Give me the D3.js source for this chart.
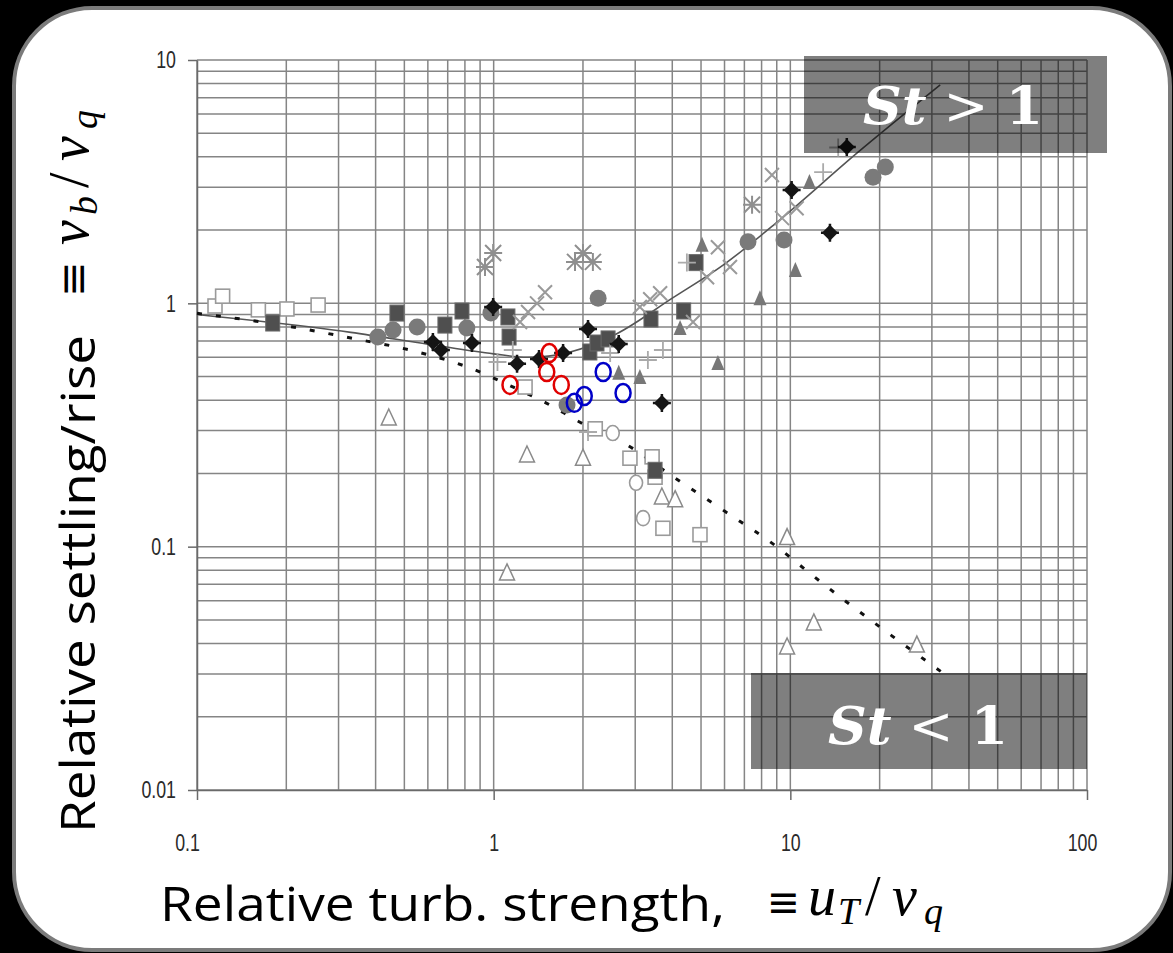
<!DOCTYPE html>
<html>
<head>
<meta charset="utf-8">
<script src="https://cdn.jsdelivr.net/npm/d3@7"></script>
<style>
  html, body { margin: 0; padding: 0; background: #000; }
  svg { display: block; }
</style>
</head>
<body>
<svg id="chart" width="1173" height="953"></svg>
<script>
// ---- axis ticks ----
const xTickValues = [0.1, 1, 10, 100];
const xTickLabels = ["0.1", "1", "10", "100"];
const yTickValues = [0.01, 0.1, 1, 10];
const yTickLabels = ["0.01", "0.1", "1", "10"];

// ---- correlation curves ----
const solidCurve = [
  [0.1, 0.90], [0.33, 0.76], [0.6, 0.68], [1.0, 0.62], [1.3, 0.60], [1.8, 0.63],
  [2.6, 0.75], [4.0, 1.05], [6.0, 1.45], [9.2, 2.2], [16.8, 4.15], [32, 7.9]
];
const dashedCurve = [
  [0.1, 0.91], [0.21, 0.80], [0.33, 0.72], [0.53, 0.64], [0.84, 0.54], [1.13, 0.46],
  [1.5, 0.39], [2.0, 0.32], [2.7, 0.27], [4.0, 0.195], [6.0, 0.14], [9.0, 0.10],
  [11.6, 0.078], [15, 0.061], [22, 0.043], [33, 0.030]
];

// ---- measurement series ----
const openSquares = [
  [0.115, 0.975], [0.122, 1.07], [0.161, 0.94], [0.201, 0.948], [0.256, 0.984],
  [1.276, 0.453], [2.2, 0.305], [2.88, 0.231], [3.42, 0.234], [3.5, 0.193],
  [3.72, 0.119], [4.96, 0.112]
];
const openCircles = [[2.52, 0.293], [3.02, 0.183], [3.19, 0.131]];
const openTriangles = [
  [0.443, 0.338], [1.295, 0.238], [2.0, 0.231], [1.109, 0.078], [3.69, 0.160],
  [4.09, 0.156], [9.75, 0.109], [12.0, 0.0486], [9.75, 0.0387], [26.7, 0.0394]
];
const grayCircles = [
  [0.407, 0.727], [0.458, 0.777], [0.552, 0.80], [0.812, 0.792], [0.979, 0.912],
  [2.25, 1.05], [1.767, 0.382], [7.2, 1.79], [9.52, 1.82], [19.0, 3.30], [20.9, 3.63]
];
const darkSquares = [
  [0.18, 0.83], [0.472, 0.912], [0.685, 0.814], [0.782, 0.93], [1.117, 0.879],
  [1.127, 0.727], [2.11, 0.631], [2.23, 0.687], [2.43, 0.714], [3.39, 0.862],
  [4.37, 0.93], [4.81, 1.47], [3.5, 0.206]
];
const blackDiamonds = [
  [0.624, 0.694], [0.664, 0.643], [0.845, 0.687], [0.996, 0.966], [1.199, 0.564],
  [1.422, 0.59], [1.714, 0.625], [2.08, 0.785], [2.64, 0.681], [3.69, 0.389],
  [10.1, 2.92], [13.6, 1.95], [15.5, 4.39]
];
const asterisks = [
  [0.996, 1.61], [0.935, 1.41], [2.0, 1.61], [1.88, 1.48], [2.16, 1.48], [7.43, 2.54]
];
const crosses = [
  [1.227, 0.838], [1.306, 0.921], [1.40, 1.0], [1.49, 1.11], [3.11, 0.966],
  [3.37, 1.04], [3.64, 1.10], [4.70, 0.838], [5.70, 1.70], [5.24, 1.28],
  [6.26, 1.41], [8.67, 3.37], [9.38, 2.24], [10.5, 2.46]
];
const plusMarks = [
  [1.03, 0.574], [1.16, 0.643], [2.47, 0.625], [3.72, 0.643], [3.31, 0.585],
  [4.48, 1.47], [12.9, 3.46], [14.5, 4.37], [2.08, 0.296]
];
const filledTriangles = [
  [4.25, 0.792], [5.04, 1.74], [2.64, 0.518], [3.11, 0.498], [5.70, 0.569],
  [7.9, 1.05], [10.4, 1.37], [11.6, 3.15]
];
const redRings = [[1.135, 0.462], [1.54, 0.625], [1.51, 0.522], [1.69, 0.462]];
const blueRings = [[1.87, 0.39], [2.02, 0.416], [2.34, 0.522], [2.73, 0.428]];

// ---- layout ----
const svg = d3.select("#chart");
const x = d3.scaleLog().domain([0.1, 100]).range([197, 1087]);
const y = d3.scaleLog().domain([0.01, 10]).range([790, 60]);

// rounded white panel
svg.append("rect")
  .attr("x", 14).attr("y", 8).attr("width", 1156).attr("height", 942)
  .attr("rx", 78).attr("ry", 78)
  .attr("fill", "#fff").attr("stroke", "#7b7b7b").attr("stroke-width", 4);

// log grid
const grid = svg.append("g");
grid.selectAll("line.gx").data(x.ticks()).join("line")
  .attr("class", "gx")
  .attr("x1", d => x(d)).attr("x2", d => x(d))
  .attr("y1", y(10)).attr("y2", y(0.01))
  .attr("stroke", "#858585").attr("stroke-width", 1.5);
grid.selectAll("line.gy").data(y.ticks()).join("line")
  .attr("class", "gy")
  .attr("x1", x(0.1)).attr("x2", x(100))
  .attr("y1", d => y(d)).attr("y2", d => y(d))
  .attr("stroke", "#858585").attr("stroke-width", 1.5);

// axes: tall, condensed digits
const tickFont = g => g.selectAll(".tick text")
  .style("font-family", "Liberation Sans, Arial, sans-serif")
  .style("font-size", "24px").attr("fill", "#2a2a2a")
  .each(function () {
    const w = this.getComputedTextLength();
    d3.select(this).attr("textLength", w * 0.74).attr("lengthAdjust", "spacingAndGlyphs");
  });

const yAxis = d3.axisLeft(y).tickValues(yTickValues)
  .tickFormat((d, i) => yTickLabels[i]).tickSize(9).tickSizeOuter(0).tickPadding(12);
svg.append("g").attr("transform", `translate(${x(0.1)},0)`).call(yAxis)
  .call(g => g.select(".domain").attr("stroke", "#6a6a6a").attr("stroke-width", 1.5))
  .call(g => g.selectAll(".tick line").attr("stroke", "#6a6a6a").attr("stroke-width", 1.5))
  .call(tickFont);

const xAxis = d3.axisBottom(x).tickValues(xTickValues)
  .tickFormat((d, i) => xTickLabels[i]).tickSize(10).tickSizeOuter(0).tickPadding(34);
svg.append("g").attr("transform", `translate(0,${y(0.01)})`).call(xAxis)
  .call(g => g.select(".domain").attr("stroke", "#6a6a6a").attr("stroke-width", 1.5))
  .call(g => g.selectAll(".tick line").attr("stroke", "#6a6a6a").attr("stroke-width", 1.5))
  .call(tickFont)
  .call(g => g.selectAll(".tick text").attr("dx", (d, i) => i === 0 ? -10 : (i === 3 ? -5 : 0)));

// curves
const line = d3.line().x(d => x(d[0])).y(d => y(d[1])).curve(d3.curveMonotoneX);
svg.append("path").datum(solidCurve).attr("d", line)
  .attr("fill", "none").attr("stroke", "#555").attr("stroke-width", 1.6);
svg.append("path").datum(dashedCurve).attr("d", line)
  .attr("fill", "none").attr("stroke", "#111").attr("stroke-width", 3)
  .attr("stroke-dasharray", "5 14");

// marker helpers
const xPath = r => `M${-r},${-r}L${r},${r}M${-r},${r}L${r},${-r}`;
const plusPath = r => `M${-r},0L${r},0M0,${-r}L0,${r}`;
const pos = d => `translate(${x(d[0])},${y(d[1])})`;
const marks = svg.append("g");

// open markers
marks.append("g").selectAll("rect").data(openSquares).join("rect")
  .attr("transform", pos).attr("x", -7).attr("y", -7).attr("width", 14).attr("height", 14)
  .attr("fill", "#fff").attr("stroke", "#9a9a9a").attr("stroke-width", 1.6);
marks.append("g").selectAll("ellipse").data(openCircles).join("ellipse")
  .attr("transform", pos).attr("rx", 6.5).attr("ry", 7.5)
  .attr("fill", "#fff").attr("stroke", "#9a9a9a").attr("stroke-width", 1.6);
marks.append("g").selectAll("path").data(openTriangles).join("path")
  .attr("transform", pos).attr("d", "M0,-9L7.5,7L-7.5,7Z")
  .attr("fill", "#fff").attr("stroke", "#8a8a8a").attr("stroke-width", 1.5);

// filled markers
marks.append("g").selectAll("circle").data(grayCircles).join("circle")
  .attr("transform", pos).attr("r", 8.5).attr("fill", "#7a7a7a");
marks.append("g").selectAll("rect").data(darkSquares).join("rect")
  .attr("transform", pos).attr("x", -7).attr("y", -8).attr("width", 14).attr("height", 16)
  .attr("fill", "#4f4f4f").attr("stroke", "#6a6a6a").attr("stroke-width", 1);
marks.append("g").selectAll("path").data(filledTriangles).join("path")
  .attr("transform", pos).attr("d", "M0,-8L6.5,7L-6.5,7Z").attr("fill", "#777");

// stroked markers
marks.append("g").selectAll("path").data(crosses).join("path")
  .attr("transform", pos).attr("d", xPath(7))
  .attr("stroke", "#9a9a9a").attr("stroke-width", 2).attr("fill", "none");
marks.append("g").selectAll("path").data(asterisks).join("path")
  .attr("transform", pos).attr("d", xPath(8) + plusPath(9))
  .attr("stroke", "#8f8f8f").attr("stroke-width", 2).attr("fill", "none");
marks.append("g").selectAll("path").data(plusMarks).join("path")
  .attr("transform", pos).attr("d", plusPath(9))
  .attr("stroke", "#aaa").attr("stroke-width", 1.8).attr("fill", "none");

// black diamonds with cross arms
const bd = marks.append("g").selectAll("g").data(blackDiamonds).join("g").attr("transform", pos);
bd.append("path").attr("d", "M0,-8L8,0L0,8L-8,0Z").attr("fill", "#151515");
bd.append("path").attr("d", plusPath(9)).attr("stroke", "#151515").attr("stroke-width", 2.5);

// Stokes-number regime boxes
function regimeBox(x0, y0, w, h, tx, ty, op) {
  svg.append("rect").attr("x", x0).attr("y", y0).attr("width", w).attr("height", h)
    .attr("fill", "#000").attr("opacity", 0.5);
  const t = svg.append("text").attr("x", tx).attr("y", ty)
    .attr("fill", "#fff").attr("font-family", "DejaVu Serif, Liberation Serif, serif")
    .attr("font-size", 52).attr("textLength", 180).attr("lengthAdjust", "spacingAndGlyphs");
  t.append("tspan").attr("font-weight", "bold").attr("font-style", "italic").text("St");
  t.append("tspan").text(" " + op + " ");
  t.append("tspan").attr("font-weight", "bold").text("1");
}
regimeBox(804, 56, 303, 97, 863, 124, ">");
regimeBox(751, 673, 336, 96, 828, 744, "<");

// highlighted observations
svg.append("g").selectAll("ellipse").data(redRings).join("ellipse")
  .attr("transform", pos).attr("rx", 7.5).attr("ry", 9)
  .attr("fill", "none").attr("stroke", "#e00000").attr("stroke-width", 2.5);
svg.append("g").selectAll("ellipse").data(blueRings).join("ellipse")
  .attr("transform", pos).attr("rx", 7.5).attr("ry", 9)
  .attr("fill", "none").attr("stroke", "#0000c8").attr("stroke-width", 2.5);

// axis titles
const sansFont = "Open Sans, DejaVu Sans, sans-serif";
const mathFont = "Liberation Serif, DejaVu Serif, serif";

// velocity ratio: glyphs placed along the baseline at given offsets
function velocityRatio(parent, x0, y0, base, sub1, base2, sub2) {
  const t = parent.append("text").attr("y", y0)
    .attr("font-family", mathFont).attr("font-style", "italic").attr("fill", "#000");
  t.append("tspan").attr("x", x0).attr("font-size", 56).text(base);
  t.append("tspan").attr("x", x0 + 30).attr("dy", 9).attr("font-size", 38).text(sub1);
  t.append("tspan").attr("x", x0 + 57).attr("dy", -9).attr("font-size", 56)
    .attr("font-style", "normal").text("/");
  t.append("tspan").attr("x", x0 + 84).attr("font-size", 56).text(base2);
  t.append("tspan").attr("x", x0 + 116).attr("dy", 9).attr("font-size", 38).text(sub2);
}

// x title
svg.append("text").attr("x", 160).attr("y", 921)
  .attr("font-family", sansFont).attr("font-size", 47).attr("fill", "#000")
  .attr("textLength", 565).attr("lengthAdjust", "spacingAndGlyphs")
  .text("Relative turb. strength,");
svg.append("text").attr("x", 767).attr("y", 917)
  .attr("font-family", "DejaVu Serif, serif").attr("font-size", 44).attr("fill", "#000")
  .attr("textLength", 33).attr("lengthAdjust", "spacingAndGlyphs").text("≡");
velocityRatio(svg, 808, 915, "u", "T", "v", "q");

// y title (rotated)
const yt = svg.append("g").attr("transform", "rotate(-90)");
yt.append("text").attr("x", -833).attr("y", 95)
  .attr("font-family", sansFont).attr("font-size", 47).attr("fill", "#000")
  .attr("textLength", 498).attr("lengthAdjust", "spacingAndGlyphs")
  .text("Relative settling/rise");
yt.append("text").attr("x", -297).attr("y", 88)
  .attr("font-family", "DejaVu Serif, serif").attr("font-size", 44).attr("fill", "#000")
  .attr("textLength", 36).attr("lengthAdjust", "spacingAndGlyphs").text("≡");
velocityRatio(yt, -245, 88, "v", "b", "v", "q");
</script>
</body>
</html>
